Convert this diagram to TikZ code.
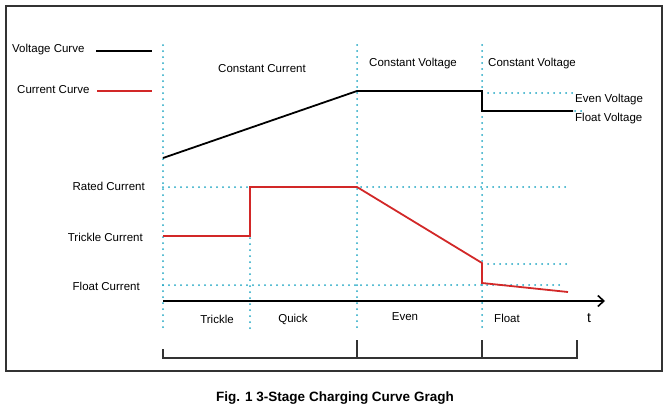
\documentclass[tikz,border=0pt]{standalone}
\usepackage{fontspec}
\setmainfont{Liberation Sans}
\usetikzlibrary{arrows.meta}
\definecolor{dotc}{RGB}{30,165,195}
\definecolor{redc}{RGB}{210,40,40}
\tikzset{
  dotl/.style={dotc,line width=2pt,dash pattern=on 0pt off 6pt,line cap=round},
  lbl/.style={font=\fontsize{11.5}{12}\selectfont,inner sep=0pt},
  volt/.style={black,line width=1.8pt},
  curr/.style={redc,line width=1.8pt},
}
\begin{document}
\begin{tikzpicture}[x=1pt,y=-1pt]
\useasboundingbox (0,0) rectangle (669,410);
\draw[line width=2.5pt,black!80] (6,6) rectangle (662,371);
% dotted verticals
\draw[dotl] (163,45) -- (163,330);
\draw[dotl] (250,190) -- (250,330);
\draw[dotl] (357,45) -- (357,330);
\draw[dotl] (482,45) -- (482,330);
% dotted horizontals
\draw[dotl] (482,93) -- (573,93);
\draw[dotl] (575,111) -- (582,111);
\draw[dotl] (163,187) -- (566,187);
\draw[dotl] (482,264) -- (566,264);
\draw[dotl] (163,285) -- (560,285);
% legend
\node[lbl,anchor=west] (lv) at (12,50) {Voltage Curve};
\node[lbl,anchor=west] (lc) at (17,90) {Current Curve};
\draw[volt] (96,51) -- (152,51);
\draw[curr] (97,91) -- (152,91);
% curves
\draw[volt] (163,158) -- (357,91) -- (482,91) -- (482,111) -- (573,111);
\draw[curr] (163,236) -- (250,236) -- (250,187) -- (357,187) -- (482,263) -- (482,283) -- (568,292);
% axis
\coordinate (a0) at (163,301);
\coordinate (a1) at (605,301);
\draw[line width=1.6pt,-{Straight Barb[length=6pt,width=11pt]}] (a0) -- (a1);
\node[lbl,font=\fontsize{14}{14}\selectfont] (t) at (589,318) {t};
% phase labels
\node[lbl] (p1) at (217,319) {Trickle};
\node[lbl] (p2) at (293,319) {Quick};
\node[lbl] (p3) at (405,317) {Even};
\node[lbl] (p4) at (507,318) {Float};
\node[lbl] (m1) at (262,69) {Constant Current};
\node[lbl] (m2) at (413,64) {Constant Voltage};
\node[lbl] (m3) at (532,64) {Constant Voltage};
\node[lbl,anchor=west] (ev) at (575,100) {Even Voltage};
\node[lbl,anchor=west] (fv) at (575,119) {Float Voltage};
\node[lbl,anchor=east] (rc) at (145,186) {Rated Current};
\node[lbl,anchor=east] (tc) at (143,237) {Trickle Current};
\node[lbl,anchor=east] (fc) at (140,286) {Float Current};
% bracket
\draw[line width=1.4pt,black!80] (163,349) -- (163,358) -- (577,358) -- (577,340);
\draw[line width=1.4pt,black!80] (357,340) -- (357,358);
\draw[line width=1.4pt,black!80] (482,340) -- (482,358);
% caption
\node[inner sep=0pt,font=\bfseries\fontsize{13.5}{14}\selectfont] (cap) at (335,398) {Fig. 1 3-Stage Charging Curve Gragh};
\end{tikzpicture}
\end{document}
